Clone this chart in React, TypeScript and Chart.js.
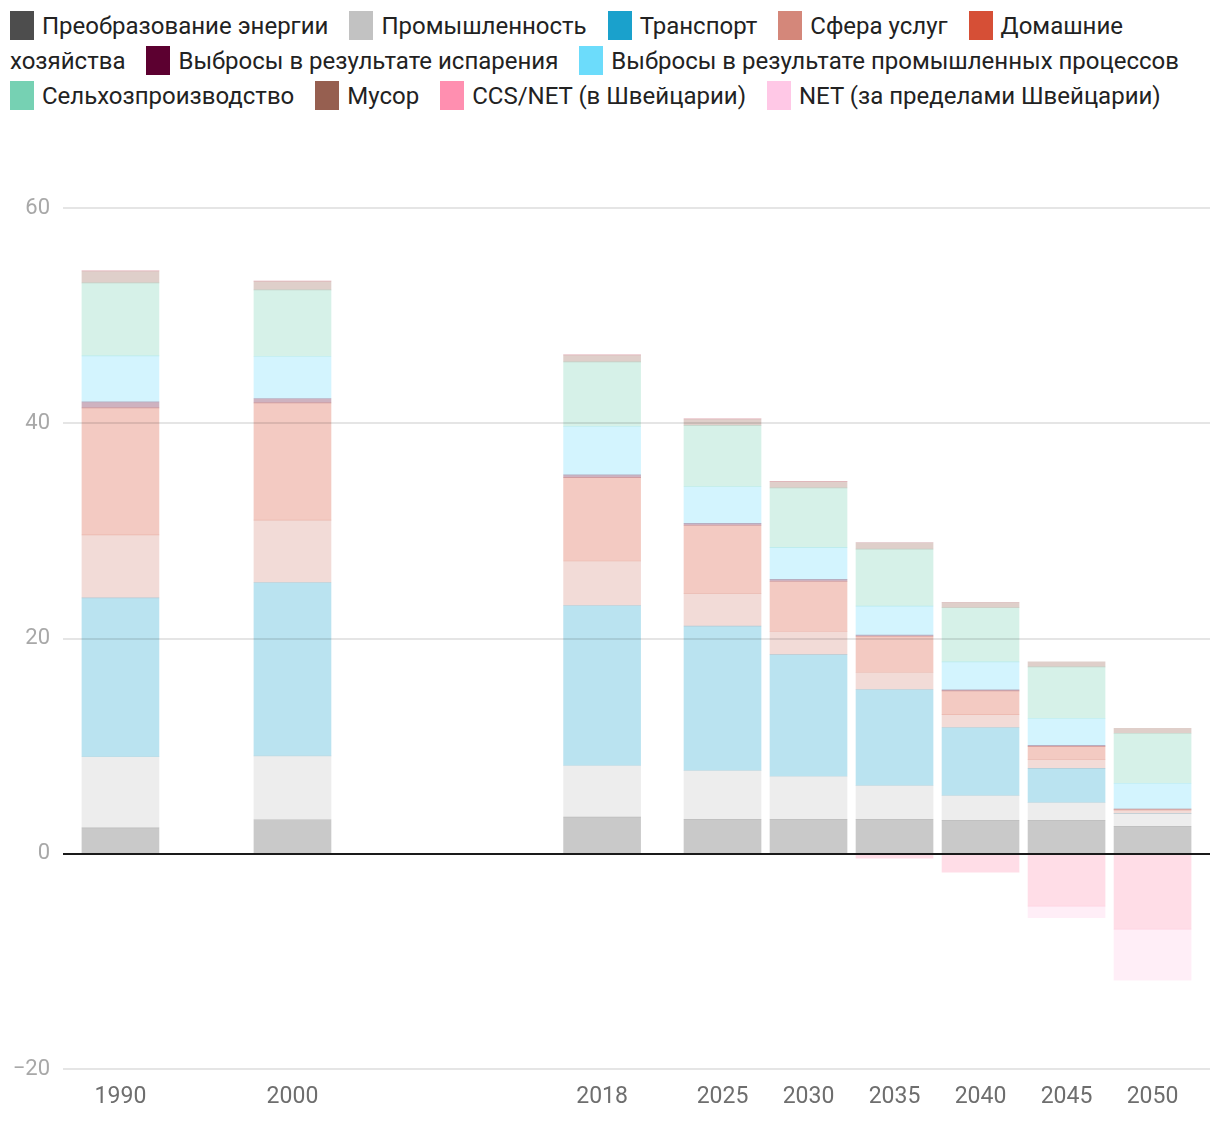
import React, { useEffect, useRef } from "react";
import { Chart, registerables } from "chart.js";

Chart.register(...registerables);

const years = [1990, 2000, 2018, 2025, 2030, 2035, 2040, 2045, 2050];

const seriesNames = [
  "Преобразование энергии",
  "Промышленность",
  "Транспорт",
  "Сфера услуг",
  "Домашние хозяйства",
  "Выбросы в результате испарения",
  "Выбросы в результате промышленных процессов",
  "Сельхозпроизводство",
  "Мусор",
  "CCS/NET (в Швейцарии)",
  "NET (за пределами Швейцарии)",
];

const seriesColors = [
  "#4d4d4d",
  "#c2c2c2",
  "#1aa1cc",
  "#d4877a",
  "#d64f36",
  "#5c0030",
  "#6cdcfb",
  "#76d1b3",
  "#965f50",
  "#ff8fb0",
  "#ffc8e6",
];

const energy = [2.41, 3.16, 3.4, 3.2, 3.2, 3.2, 3.1, 3.1, 2.55];
const industry = [6.6, 5.94, 4.8, 4.55, 4.0, 3.16, 2.33, 1.68, 1.2];
const transport = [14.77, 16.1, 14.87, 13.4, 11.3, 8.9, 6.3, 3.15, 0];
const services = [5.85, 5.8, 4.13, 3.05, 2.15, 1.6, 1.2, 0.84, 0.3];
const households = [11.8, 10.9, 7.75, 6.3, 4.65, 3.35, 2.2, 1.2, 0.1];
const evaporation = [0.56, 0.4, 0.25, 0.2, 0.2, 0.1, 0.1, 0.1, 0];
const industrialProcesses = [4.27, 3.9, 4.5, 3.4, 2.95, 2.7, 2.6, 2.5, 2.4];
const agriculture = [6.78, 6.2, 6.0, 5.7, 5.55, 5.3, 5.03, 4.8, 4.65];
const waste = [1.12, 0.8, 0.65, 0.6, 0.6, 0.6, 0.5, 0.47, 0.45];
const ccsNetDomestic = [0, 0, 0, 0, 0, -0.4, -1.7, -4.87, -7.0];
const netAbroad = [0, 0, 0, 0, 0, 0, 0, -1.08, -4.75];

const seriesValues = [
  energy,
  industry,
  transport,
  services,
  households,
  evaporation,
  industrialProcesses,
  agriculture,
  waste,
  ccsNetDomestic,
  netAbroad,
];

const yTicks = [-20, 0, 20, 40, 60];

function hexToRgba(hex: string, a: number) {
  const n = parseInt(hex.slice(1), 16);
  return `rgba(${(n >> 16) & 255},${(n >> 8) & 255},${n & 255},${a})`;
}

function Legend() {
  return (
    <div
      style={{
        position: "absolute",
        left: 2,
        top: 1,
        width: 1200,
        fontFamily: "Roboto",
        fontSize: 24,
        lineHeight: "35px",
        color: "#222",
      }}
    >
      {seriesNames.map((name, i) => {
        const words = name.split(" ");
        const first = words[0];
        const rest = words.slice(1).join(" ");
        return (
          <React.Fragment key={i}>
            <span style={{ marginRight: 21 }}>
              <span style={{ whiteSpace: "nowrap" }}>
                <span
                  style={{
                    display: "inline-block",
                    width: 24,
                    height: 29,
                    background: seriesColors[i],
                    verticalAlign: "middle",
                    marginRight: 8,
                    position: "relative",
                    top: -2,
                  }}
                />
                {first}
              </span>
              {rest ? " " + rest : ""}
            </span>
            {"\u200B"}
          </React.Fragment>
        );
      })}
    </div>
  );
}

export default function App() {
  const ref = useRef<HTMLCanvasElement | null>(null);

  useEffect(() => {
    if (!ref.current) return;
    Chart.defaults.font.family = "Roboto";
    const chart = new Chart(ref.current, {
      type: "bar",
      data: {
        datasets: seriesNames.map((name, i) => ({
          label: name,
          data: years.map((yr, j) => ({ x: yr, y: seriesValues[i][j] })),
          backgroundColor: hexToRgba(seriesColors[i], 0.3),
          borderWidth: 0,
          barThickness: 77,
        })),
      },
      options: {
        animation: false,
        responsive: false,
        maintainAspectRatio: false,
        layout: { padding: { top: 77, right: 2, left: 0, bottom: 0 } },
        plugins: {
          legend: { display: false },
          tooltip: { enabled: false },
        },
        scales: {
          x: {
            type: "linear",
            min: 1986.66,
            max: 2053.34,
            offset: false,
            stacked: true,
            grid: { display: false, drawTicks: false, offset: false },
            border: { display: false },
            afterBuildTicks: (scale: any) => {
              scale.ticks = years.map((v) => ({ value: v }));
            },
            afterFit: (scale: any) => {
              scale.height = 52;
            },
            ticks: {
              autoSkip: false,
              maxRotation: 0,
              padding: 14,
              color: "#6e6e6e",
              font: { size: 23, family: "Roboto" },
              callback: (v: any) => String(v),
            },
          },
          y: {
            min: -20,
            max: 60,
            stacked: true,
            afterBuildTicks: (scale: any) => {
              scale.ticks = yTicks.map((v) => ({ value: v }));
            },
            afterFit: (scale: any) => {
              scale.width = 55;
            },
            grid: {
              z: 1,
              drawTicks: false,
              color: (ctx: any) =>
                ctx.tick && ctx.tick.value === 0 ? "#1a1a1a" : "rgba(0,0,0,0.1)",
              lineWidth: 2,
            },
            border: { display: false },
            ticks: {
              padding: 13,
              color: "#a8a8a8",
              font: { size: 22, family: "Roboto" },
              callback: (v: any) => (v < 0 ? "\u2212" + Math.abs(v) : String(v)),
            },
          },
        },
      } as any,
    });
    return () => chart.destroy();
  }, []);

  return (
    <div style={{ position: "relative", width: 1204, height: 1110 }}>
      <Legend />
      <canvas
        ref={ref}
        width={1204}
        height={990}
        style={{ position: "absolute", left: 0, top: 123, width: 1204, height: 990 }}
      />
    </div>
  );
}
